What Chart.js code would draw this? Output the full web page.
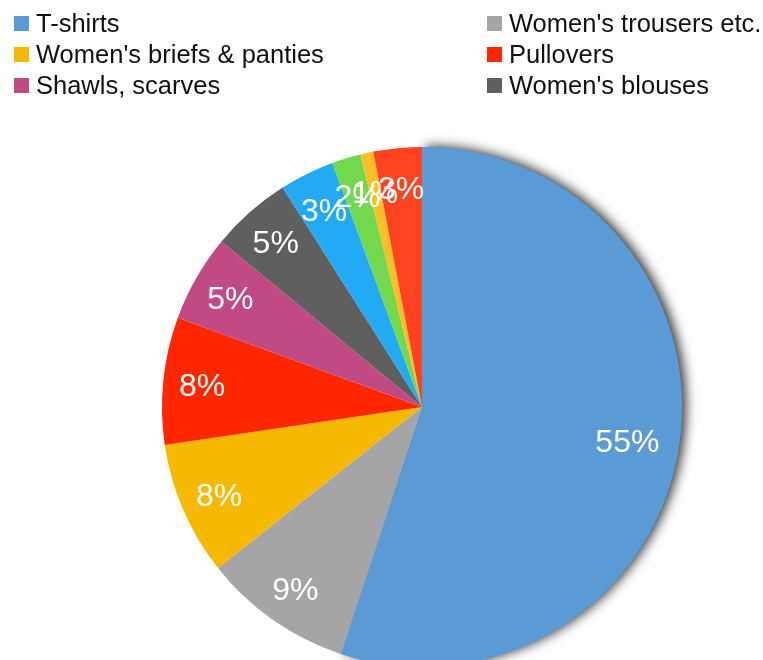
<!DOCTYPE html>
<html>
<head>
<meta charset="utf-8">
<script src="https://cdn.jsdelivr.net/npm/chart.js@4"></script>
<style>
  html, body { margin: 0; padding: 0; width: 763px; height: 660px; overflow: hidden; background: #fff; }
  #wrap { position: relative; width: 763px; height: 660px; }
  #salesPie { position: absolute; left: 0; top: 0; }
  #legend {
    position: absolute; left: 14px; top: 8px; width: 749px;
    display: grid; grid-template-columns: 473px auto; row-gap: 0;
    font-family: "Liberation Sans", Arial, sans-serif; font-size: 25.5px; color: #111;
  }
  .item { display: flex; align-items: center; height: 31px; white-space: nowrap; }
  .box { width: 15px; height: 15px; margin-right: 7px; flex: none; }
</style>
</head>
<body>
<div id="wrap">
  <canvas id="salesPie" width="763" height="700"></canvas>
  <div id="legend"></div>
</div>
<script>
const categories = [
    "T-shirts", "Women's trousers etc.", "Women's briefs & panties", "Pullovers",
    "Shawls, scarves", "Women's blouses", "Jackets", "Dresses", "Skirts", "Coats"
];
const shares = [55.0, 9.3, 8.3, 7.9, 5.4, 5.0, 3.4, 1.8, 0.8, 3.0];
const sliceColors = [
    '#5b9bd5', '#a5a5a5', '#f7b900', '#ff2600', '#c24a84',
    '#5f5f5f', '#22aaf5', '#72d94c', '#f9bf24', '#ff4320'
];
// only the first six categories appear in the legend
const legendCount = 6;

const total = shares.reduce((a, b) => a + b, 0);

const legendEl = document.getElementById('legend');
categories.slice(0, legendCount).forEach((name, i) => {
    const item = document.createElement('div');
    item.className = 'item';
    const box = document.createElement('span');
    box.className = 'box';
    box.style.background = sliceColors[i];
    const label = document.createElement('span');
    label.textContent = name;
    item.appendChild(box);
    item.appendChild(label);
    legendEl.appendChild(item);
});

// soft shadow behind the largest slice
const sliceShadow = {
    id: 'sliceShadow',
    beforeDatasetsDraw(chart) {
        const arc = chart.getDatasetMeta(0).data[0];
        if (!arc) return;
        const ctx = chart.ctx;
        ctx.save();
        ctx.shadowColor = 'rgba(0, 0, 0, 0.8)';
        ctx.shadowBlur = 12;
        ctx.shadowOffsetX = 4;
        ctx.shadowOffsetY = -1;
        arc.draw(ctx);
        ctx.restore();
    }
};

// percentage labels inside each slice
const sliceLabels = {
    id: 'sliceLabels',
    afterDatasetsDraw(chart) {
        const ctx = chart.ctx;
        const meta = chart.getDatasetMeta(0);
        ctx.save();
        ctx.fillStyle = '#ffffff';
        ctx.font = '32px "Liberation Sans", Arial, sans-serif';
        ctx.textAlign = 'center';
        ctx.textBaseline = 'middle';
        meta.data.forEach((arc, i) => {
            const { x, y, startAngle, endAngle, outerRadius } = arc.getProps(['x', 'y', 'startAngle', 'endAngle', 'outerRadius'], true);
            const mid = (startAngle + endAngle) / 2;
            const r = outerRadius * (i === 0 ? 0.8 : 0.85);
            const pct = Math.round(shares[i] / total * 100) + '%';
            ctx.fillText(pct, x + Math.cos(mid) * r, y + Math.sin(mid) * r + 3);
        });
        ctx.restore();
    }
};

new Chart(document.getElementById('salesPie'), {
    type: 'pie',
    data: {
        labels: categories,
        datasets: [{
            data: shares,
            backgroundColor: sliceColors,
            borderWidth: 0
        }]
    },
    options: {
        responsive: false,
        animation: false,
        devicePixelRatio: 1,
        layout: { padding: { left: 162, right: 81, top: 147, bottom: 33 } },
        plugins: {
            legend: { display: false },
            tooltip: { enabled: false }
        }
    },
    plugins: [sliceShadow, sliceLabels]
});
</script>
</body>
</html>
